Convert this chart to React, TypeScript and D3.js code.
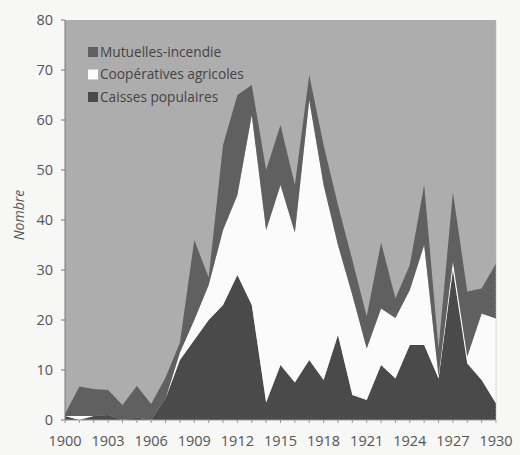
import React from "react";
import * as d3 from "d3";

const years = d3.range(1900, 1931);
const caisses = [0.8, 0, 0.8, 1, 0, 0.5, 0, 4.3, 12, 16, 20, 23, 29, 23, 3.5, 11, 7.5, 12, 8, 17, 5, 4, 11, 8.3, 15, 15, 8.3, 30, 11.3, 8, 3.3];
const coop = [0, 0.8, 0, 0, 0, 0, 0, 0, 1.5, 4, 7, 15, 16, 38, 34.5, 36, 30, 52, 39, 18, 20, 10.3, 11.3, 12.1, 11, 20, 0.5, 1.7, 1.4, 13.3, 17];
const mutuelles = [0.4, 5.9, 5.4, 5, 3, 6.3, 3.2, 4.2, 2, 16, 1.5, 17, 20, 6, 12, 12, 9.5, 5, 8, 8, 7, 6.4, 13.2, 3.9, 5, 12, 5.5, 13.8, 13, 5, 11];
const seriesNames = ["Caisses populaires", "Coopératives agricoles", "Mutuelles-incendie"];
const legendOrder = ["Mutuelles-incendie", "Coopératives agricoles", "Caisses populaires"];
const xTicks = [1900, 1903, 1906, 1909, 1912, 1915, 1918, 1921, 1924, 1927, 1930];
const yTicks = [0, 10, 20, 30, 40, 50, 60, 70, 80];

const colors: Record<string, string> = {
  "Caisses populaires": "#4a4a4a",
  "Coopératives agricoles": "#fbfbfb",
  "Mutuelles-incendie": "#606060",
};

export default function App() {
  const W = 520, H = 455;
  const left = 65, right = 496, top = 20, bottom = 420;
  const x = d3.scaleLinear().domain([1900, 1930]).range([left, right]);
  const y = d3.scaleLinear().domain([0, 80]).range([bottom, top]);

  const rows = years.map((yr, i) => ({
    year: yr,
    "Caisses populaires": caisses[i],
    "Coopératives agricoles": coop[i],
    "Mutuelles-incendie": mutuelles[i],
  }));
  const stacked = d3.stack<any>().keys(seriesNames)(rows);
  const area = d3
    .area<any>()
    .x((d) => x(d.data.year))
    .y0((d) => y(d[0]))
    .y1((d) => y(d[1]))
    .curve(d3.curveLinear);

  const font = "'Open Sans', sans-serif";
  const textColor = "#555";

  return (
    <svg width={W} height={H} style={{ position: "absolute", left: 0, top: 0, background: "#f7f7f5" }}>
      <rect x={0} y={0} width={W} height={H} fill="#f7f7f5" />
      <rect x={left} y={top} width={right - left} height={bottom - top} fill="#adadad" />
      {stacked.map((s) => (
        <path key={s.key} d={area(s) || ""} fill={colors[s.key]} />
      ))}
      <line x1={left} x2={left} y1={top} y2={bottom} stroke="#777" strokeWidth={1} />
      <line x1={left} x2={right} y1={bottom} y2={bottom} stroke="#999" strokeWidth={1} />
      <line x1={right} x2={right} y1={top} y2={bottom} stroke="#bbb" strokeWidth={1} strokeDasharray="1,1" />
      {yTicks.map((t) => (
        <g key={t}>
          <line x1={left - 4} x2={left} y1={y(t)} y2={y(t)} stroke="#777" />
          <text x={left - 12} y={y(t)} dy="0.35em" textAnchor="end" fontSize={14.5} fontFamily={font} fill={textColor}>
            {t}
          </text>
        </g>
      ))}
      {years.map((t) => (
        <line key={t} x1={x(t)} x2={x(t)} y1={bottom} y2={bottom + 3} stroke="#999" />
      ))}
      {xTicks.map((t) => (
        <text key={t} x={x(t)} y={bottom + 26} textAnchor="middle" fontSize={14.5} fontFamily={font} fill={textColor}>
          {t}
        </text>
      ))}
      <text
        transform={`translate(${24},${215}) rotate(-90)`}
        textAnchor="middle"
        fontSize={14}
        fontStyle="italic"
        fontFamily={font}
        fill={textColor}
      >
        Nombre
      </text>
      {legendOrder.map((k, i) => (
        <g key={k} transform={`translate(88,${52 + i * 22.5})`}>
          <rect x={0} y={-5} width={10} height={10} fill={colors[k]} />
          <text x={12} y={0} dy="0.35em" fontSize={13.7} fontFamily={font} fill="#444">
            {k}
          </text>
        </g>
      ))}
    </svg>
  );
}
